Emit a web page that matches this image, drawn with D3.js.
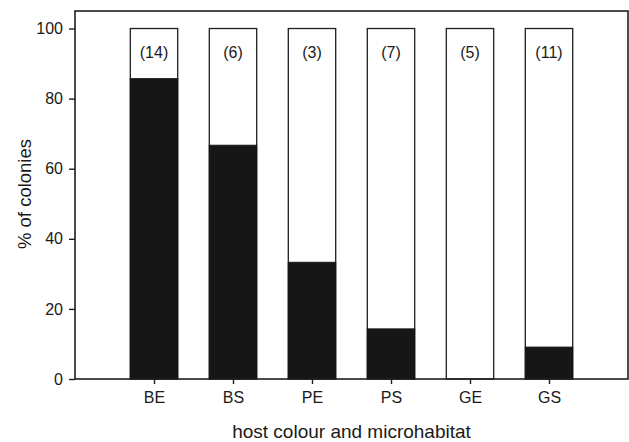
<!DOCTYPE html>
<html>
<head>
<meta charset="utf-8">
<script src="https://cdn.jsdelivr.net/npm/d3@7"></script>
<style>
  body { margin: 0; background: #fff; }
  svg { display: block; font-family: "Liberation Sans", Arial, sans-serif; }
</style>
</head>
<body>
<div id="chart"></div>
<script>
// data
const categories = ["BE", "BS", "PE", "PS", "GE", "GS"];
const blackPct = [85.7, 66.7, 33.3, 14.3, 0, 9.1];
const nColonies = ["(14)", "(6)", "(3)", "(7)", "(5)", "(11)"];
const yTicks = [0, 20, 40, 60, 80, 100];

const W = 629, H = 442;
const margin = {top: 11, right: 1, bottom: 63, left: 75};
const width = W - margin.left - margin.right,
    height = H - margin.top - margin.bottom;

const svg = d3.select("#chart")
  .append("svg")
    .attr("width", W)
    .attr("height", H)
  .append("g")
    .attr("transform", `translate(${margin.left}, ${margin.top})`);

const step = width / (categories.length + 1);

// X: categories sit at 1..6 of a 0..7 slot grid
const x = d3.scalePoint()
  .domain(categories)
  .range([step, width - step]);

const y = d3.scaleLinear()
  .domain([0, 105])
  .range([height, 0]);

const barW = step * 0.6;

// white (full 100%) bars
svg.selectAll("rect.full")
  .data(categories)
  .join("rect")
    .attr("class", "full")
    .attr("x", d => x(d) - barW / 2)
    .attr("y", y(100))
    .attr("width", barW)
    .attr("height", y(0) - y(100))
    .style("fill", "#fff")
    .style("stroke", "#1e1e1e")
    .style("stroke-width", 1.3);

// black part
svg.selectAll("rect.black")
  .data(categories)
  .join("rect")
    .attr("class", "black")
    .attr("x", d => x(d) - barW / 2)
    .attr("y", (d, i) => y(blackPct[i]))
    .attr("width", barW)
    .attr("height", (d, i) => y(0) - y(blackPct[i]))
    .style("fill", "#161616")
    .style("stroke", "#161616")
    .style("stroke-width", 1);

// sample sizes
svg.selectAll("text.n")
  .data(categories)
  .join("text")
    .attr("class", "n")
    .attr("x", d => x(d))
    .attr("y", y(93.3))
    .attr("text-anchor", "middle")
    .attr("dominant-baseline", "central")
    .style("font-size", "16px")
    .style("fill", "#1a1a1a")
    .text((d, i) => nColonies[i]);

// frame
svg.append("rect")
  .attr("x", 0)
  .attr("y", 0)
  .attr("width", width)
  .attr("height", height)
  .style("fill", "none")
  .style("stroke", "#1e1e1e")
  .style("stroke-width", 1.6);

// Y axis
const yAxis = svg.append("g")
  .call(d3.axisLeft(y).tickValues(yTicks).tickSize(6).tickPadding(6));
yAxis.select(".domain").remove();
yAxis.selectAll("line").style("stroke", "#1e1e1e").style("stroke-width", 1.4);
yAxis.selectAll("text")
  .style("font-size", "16px")
  .style("fill", "#1a1a1a")
  .style("font-family", "Liberation Sans, Arial, sans-serif");

// X axis
const xAxis = svg.append("g")
  .attr("transform", `translate(0, ${height})`)
  .call(d3.axisBottom(x).tickSize(5).tickPadding(8));
xAxis.select(".domain").remove();
xAxis.selectAll("line").style("stroke", "#1e1e1e").style("stroke-width", 1.4);
xAxis.selectAll("text")
  .style("font-size", "16px")
  .style("fill", "#1a1a1a")
  .style("font-family", "Liberation Sans, Arial, sans-serif");

// axis titles
svg.append("text")
  .attr("x", width / 2)
  .attr("y", height + 59)
  .attr("text-anchor", "middle")
  .style("font-size", "19px")
  .style("fill", "#1a1a1a")
  .text("host colour and microhabitat");

svg.append("text")
  .attr("transform", `translate(${-44}, ${height / 2 - 1}) rotate(-90)`)
  .attr("text-anchor", "middle")
  .style("font-size", "18.5px")
  .style("fill", "#1a1a1a")
  .text("% of colonies");
</script>
</body>
</html>
